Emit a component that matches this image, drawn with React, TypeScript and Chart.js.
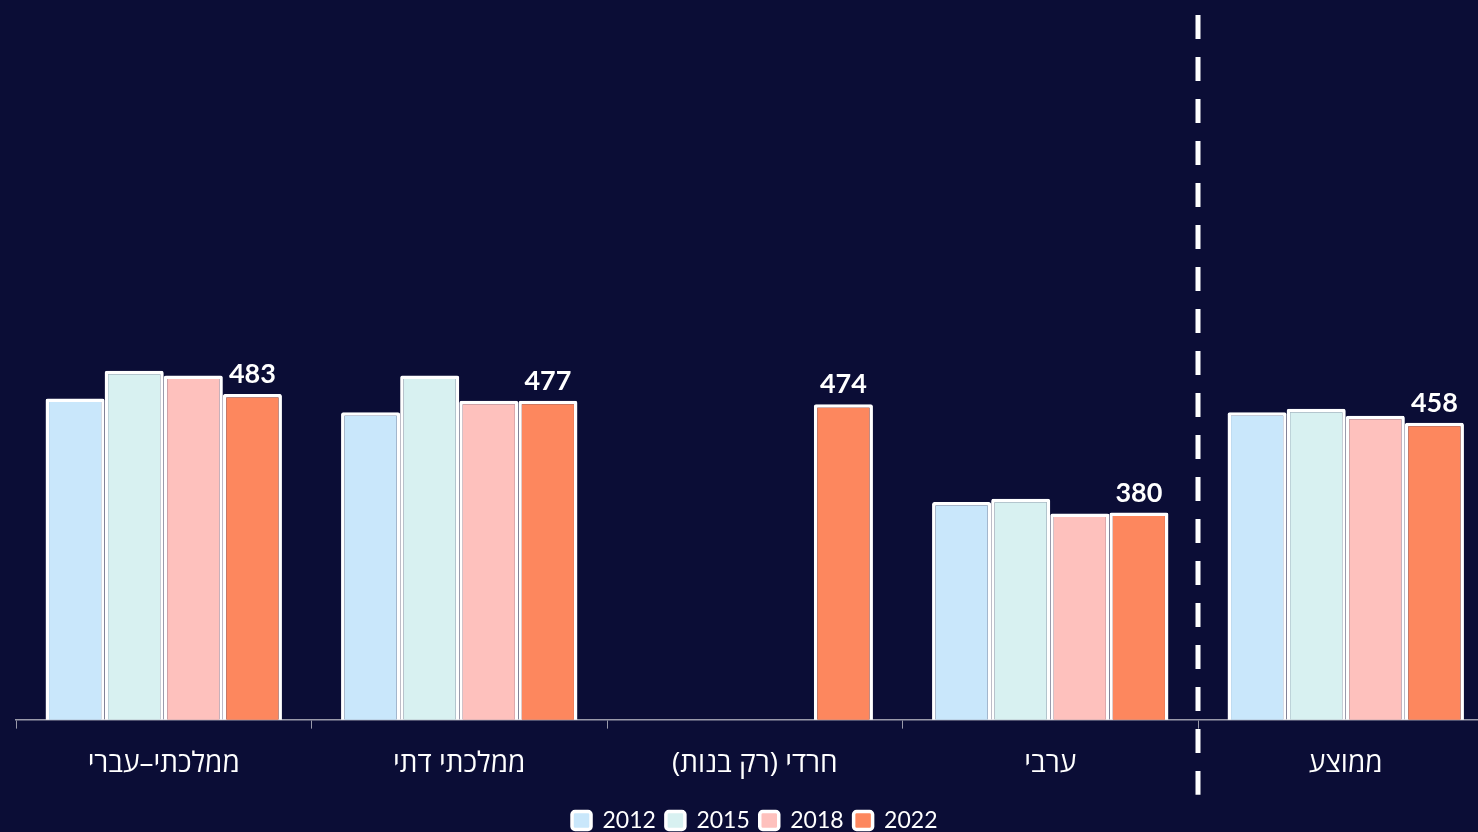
import React, { useEffect, useRef } from 'react';
import { Chart, registerables } from 'chart.js';

Chart.register(...registerables);

const categories = ['ממלכתי–עברי', 'ממלכתי דתי', 'חרדי (רק בנות)', 'ערבי', 'ממוצע'];
const years = ['2012', '2015', '2018', '2022'];
const values2012 = [479, 467, null, 389, 467];
const values2015 = [503, 499, null, 392, 470];
const values2018 = [499, 477, null, 379, 464];
const values2022 = [483, 477, 474, 380, 458];
const seriesValues = [values2012, values2015, values2018, values2022];
const seriesColors = ['#c9e7fb', '#d8f1f1', '#fec1bd', '#fd875e'];
const yMin = 200;
const yMax = 800;
const BG = '#0b0d36';

const labelPlugin = {
  id: 'lastLabels',
  afterDatasetsDraw(chart: any) {
    const ctx = chart.ctx;
    const idx = chart.data.datasets.length - 1;
    const meta = chart.getDatasetMeta(idx);
    ctx.save();
    ctx.fillStyle = '#ffffff';
    ctx.font = 'bold 27px Lato, "Open Sans", sans-serif';
    ctx.textAlign = 'center';
    ctx.textBaseline = 'bottom';
    meta.data.forEach((el: any, i: number) => {
      const v = chart.data.datasets[idx].data[i];
      if (v == null) return;
      ctx.fillText(String(v), el.x, el.y - 6);
    });
    ctx.restore();
  },
};

const dividerPlugin = {
  id: 'divider',
  afterDraw(chart: any) {
    const ctx = chart.ctx;
    const xs = chart.scales.x;
    const x = (xs.getPixelForValue(3) + xs.getPixelForValue(4)) / 2;
    const { top, bottom } = chart.chartArea;
    ctx.save();
    ctx.strokeStyle = '#ffffff';
    ctx.lineWidth = 5;
    ctx.setLineDash([24, 18]);
    ctx.beginPath();
    ctx.moveTo(x, top - 14);
    ctx.lineTo(x, bottom + 75);
    ctx.stroke();
    ctx.restore();
  },
};

export default function App() {
  const ref = useRef<HTMLCanvasElement | null>(null);
  useEffect(() => {
    if (!ref.current) return;
    const chart = new Chart(ref.current, {
      type: 'bar',
      data: {
        labels: categories,
        datasets: years.map((y, i) => ({
          label: y,
          data: seriesValues[i],
          backgroundColor: seriesColors[i],
          borderColor: '#ffffff',
          borderWidth: 3.5,
          borderRadius: 2,
          borderSkipped: false,
          categoryPercentage: 0.8,
          barPercentage: 1,
        })),
      },
      options: {
        animation: false,
        responsive: true,
        maintainAspectRatio: false,
        layout: { padding: { left: 8, right: 17.5, top: 29, bottom: 0 } },
        plugins: {
          legend: {
            position: 'bottom',
            labels: {
              color: '#ffffff',
              font: { family: 'Lato, "Open Sans", sans-serif', size: 23 },
              boxWidth: 19,
              boxHeight: 18,
              useBorderRadius: true,
              borderRadius: 3,
              padding: 10,
            },
          },
          tooltip: { enabled: false },
        },
        scales: {
          x: {
            grid: {
              display: true,
              drawOnChartArea: false,
              drawTicks: true,
              tickLength: 9,
              color: '#9a9aaa',
            },
            border: { display: true, color: '#9a9aaa', width: 1.5 },
            ticks: {
              color: '#ffffff',
              font: { family: '"Open Sans", "DejaVu Sans", sans-serif', size: 28, lineHeight: 0.87 },
              padding: 23,
            },
          },
          y: { display: false, min: yMin, max: yMax },
        },
      },
      plugins: [labelPlugin, dividerPlugin],
    });
    return () => chart.destroy();
  }, []);
  return (
    <div style={{ position: 'fixed', left: 0, top: 0, width: 1478, height: 832, overflow: 'hidden', background: BG }}>
      <div style={{ position: 'absolute', left: 8, top: 0, width: 1503, height: 842 }}>
        <canvas ref={ref} style={{ direction: 'rtl' }} dir="rtl" />
      </div>
    </div>
  );
}
